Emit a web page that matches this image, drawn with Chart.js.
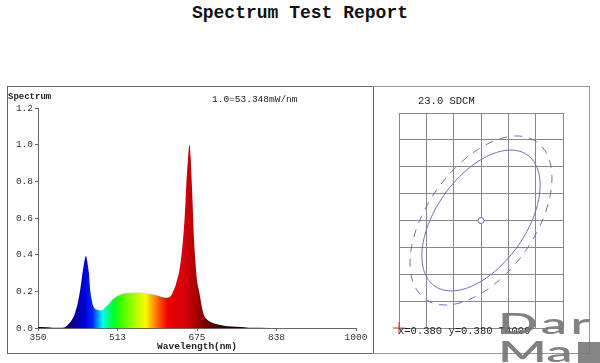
<!DOCTYPE html>
<html>
<head>
<meta charset="utf-8">
<script src="https://cdn.jsdelivr.net/npm/chart.js@4/dist/chart.umd.min.js"></script>
<style>
  body { margin: 0; width: 600px; height: 363px; background: #fff; position: relative; overflow: hidden; font-family: "Liberation Mono", "DejaVu Sans Mono", monospace; }
  .abs { position: absolute; white-space: nowrap; }
  #title { left: 0; width: 600px; top: 3px; text-align: center; font-size: 18px; font-weight: bold; color: #111; }
  #leftBox { left: 7px; top: 86px; width: 365px; height: 266px; border: 1px solid #666; }
  #rightBox { left: 372px; top: 86px; width: 217px; height: 266px; border: 1px solid #999; border-left: none; }
  #spec { left: 0; top: 0; }
  #cie { left: 0; top: 0; }
  .lbl { color: #222; line-height: 12px; }
  #logo1, #logo2 { color: rgba(115,115,115,0.9); font-family: "Lato", "DejaVu Sans", sans-serif; font-weight: 600; font-size: 29px; line-height: 28px; transform-origin: left top; transform: scaleX(1.8); }
  #logo1 { letter-spacing: 2px; }
  #logo2 { letter-spacing: 0px; }
  #logoSq { left: 578px; top: 342px; width: 22px; height: 21px; background: rgba(120,120,120,0.9); }
</style>
</head>
<body>
<div id="title" class="abs">Spectrum Test Report</div>
<div id="leftBox" class="abs"><canvas id="spec" class="abs" width="365" height="266"></canvas></div>
<div id="rightBox" class="abs"><canvas id="cie" class="abs" width="217" height="266"></canvas></div>
<div class="abs lbl" style="left:8px;top:91px;font-size:9px;font-weight:bold;">Spectrum</div>
<div class="abs lbl" style="left:212px;top:94px;font-size:9.5px;">1.0=53.348mW/nm</div>
<div class="abs lbl" style="left:418px;top:95px;font-size:10.5px;">23.0 SDCM</div>
<div class="abs lbl" style="left:398px;top:325px;font-size:10.5px;">x=0.380 y=0.380 T4000</div>
<div id="logo1" class="abs" style="left:498px;top:309px;">Dar</div>
<div id="logo2" class="abs" style="left:498px;top:337px;">Ma</div>
<div id="logoSq" class="abs"></div>
<script>
// spectrum data (relative power vs wavelength)
var wavelengths = [350, 360, 370, 380, 390, 400, 405, 412, 418, 422, 426, 429, 432, 436, 439, 441, 444, 446, 448, 450, 452, 454, 457, 460, 463, 467, 471, 475, 478, 481, 485, 490, 494, 500, 508, 515, 522, 530, 542, 555, 569, 580, 590, 600, 607, 612, 618, 623, 627, 631, 634, 638, 641, 645, 648, 651, 653, 656, 658, 660, 662, 664, 666, 668, 670, 672, 675, 679, 682, 686, 690, 696, 704, 716, 730, 745, 764, 780, 800, 850, 900, 1000];
var power = [0.006, 0.006, 0.004, 0.001, 0.001, 0.002, 0.004, 0.02, 0.04, 0.057, 0.085, 0.112, 0.145, 0.204, 0.26, 0.3, 0.35, 0.38, 0.393, 0.375, 0.34, 0.3, 0.2, 0.15, 0.118, 0.104, 0.1, 0.097, 0.096, 0.098, 0.107, 0.12, 0.13, 0.148, 0.167, 0.178, 0.186, 0.19, 0.192, 0.193, 0.191, 0.186, 0.18, 0.172, 0.167, 0.165, 0.168, 0.18, 0.204, 0.23, 0.259, 0.3, 0.351, 0.44, 0.534, 0.66, 0.78, 0.9, 0.97, 1.0, 0.93, 0.81, 0.68, 0.534, 0.43, 0.351, 0.259, 0.204, 0.16, 0.1, 0.065, 0.045, 0.032, 0.02, 0.012, 0.008, 0.005, 0.002, 0.001, 0, 0, 0];
var xTickValues = [350, 512.5, 675, 837.5, 1000];
var xTickLabels = ["350", "513", "675", "838", "1000"];
var yTickLabels = ["0.0", "0.2", "0.4", "0.6", "0.8", "1.0", "1.2"];

// chromaticity panel
var cieCenter = [0.380, 0.380];
var cieRangeX = [0.35, 0.41];
var cieRangeY = [0.34, 0.42];
var ellipseAxes = [0.0297, 0.0165]; // semi-major, semi-minor
var ellipseAngle = 55.5; // degrees
var dashedScale = 1.2;

// colour stops for the spectrum fill
var spectrumStops = [
  [395, "rgb(20,0,70)"], [420, "rgb(10,0,140)"], [445, "rgb(0,0,215)"], [462, "rgb(0,40,255)"],
  [470, "rgb(0,130,255)"], [482, "rgb(0,250,255)"], [492, "rgb(0,255,140)"], [505, "rgb(0,255,40)"],
  [520, "rgb(60,255,0)"], [545, "rgb(160,255,0)"], [570, "rgb(255,250,0)"], [585, "rgb(255,160,0)"],
  [600, "rgb(255,70,0)"], [615, "rgb(235,0,0)"], [650, "rgb(215,0,10)"], [672, "rgb(170,0,0)"],
  [695, "rgb(110,0,0)"], [730, "rgb(50,0,0)"], [780, "rgb(0,0,0)"]
];

function spectrumFill(context) {
  var chart = context.chart;
  var area = chart.chartArea;
  if (!area) return "rgba(0,0,0,0)";
  var x = chart.scales.x;
  var g = chart.ctx.createLinearGradient(area.left, 0, area.right, 0);
  var w = area.right - area.left;
  spectrumStops.forEach(function (s) {
    var p = (x.getPixelForValue(s[0]) - area.left) / w;
    g.addColorStop(Math.min(1, Math.max(0, p)), s[1]);
  });
  return g;
}

var points = wavelengths.map(function (w, i) { return { x: w, y: power[i] }; });

new Chart(document.getElementById("spec").getContext("2d"), {
  type: "line",
  data: {
    datasets: [{
      data: points,
      fill: "origin",
      backgroundColor: spectrumFill,
      borderWidth: 0,
      pointRadius: 0,
      cubicInterpolationMode: "monotone"
    }]
  },
  options: {
    responsive: false,
    animation: false,
    layout: { padding: { top: 21, right: 17, left: 0, bottom: 0 } },
    plugins: { legend: { display: false }, tooltip: { enabled: false } },
    scales: {
      x: {
        type: "linear", min: 350, max: 1000,
        afterBuildTicks: function (scale) { scale.ticks = xTickValues.map(function (v) { return { value: v }; }); },
        afterFit: function (scale) { scale.height = 25; },
        grid: { drawOnChartArea: false, tickLength: 3, color: "#666" },
        border: { color: "#666" },
        ticks: {
          autoSkip: false, maxRotation: 0, padding: 1, color: "#333",
          font: { family: "Liberation Mono", size: 9.5 },
          callback: function (v, i) { return xTickLabels[i]; }
        },
        title: { display: true, text: "Wavelength(nm)", color: "#222", padding: { top: 0, bottom: 1 }, font: { family: "Liberation Mono", size: 9.5, weight: "bold" } }
      },
      y: {
        min: 0, max: 1.2,
        afterFit: function (scale) { scale.width = 30; },
        grid: { drawOnChartArea: false, tickLength: 3, color: "#666" },
        border: { color: "#666" },
        ticks: {
          stepSize: 0.2, padding: 2, color: "#333",
          font: { family: "Liberation Mono", size: 9.5 },
          callback: function (v, i) { return yTickLabels[i]; }
        }
      }
    }
  }
});

function ellipsePath(ctx, chart, a, b) {
  var xs = chart.scales.x, ys = chart.scales.y;
  var th = ellipseAngle * Math.PI / 180;
  ctx.beginPath();
  for (var k = 0; k <= 180; k++) {
    var t = k / 180 * 2 * Math.PI;
    var ex = cieCenter[0] + a * Math.cos(t) * Math.cos(th) - b * Math.sin(t) * Math.sin(th);
    var ey = cieCenter[1] + a * Math.cos(t) * Math.sin(th) + b * Math.sin(t) * Math.cos(th);
    var px = xs.getPixelForValue(ex), py = ys.getPixelForValue(ey);
    if (k === 0) ctx.moveTo(px, py); else ctx.lineTo(px, py);
  }
  ctx.stroke();
}

var ellipsePlugin = {
  id: "sdcmEllipse",
  beforeDatasetsDraw: function (chart) {
    var ctx = chart.ctx;
    ctx.save();
    ctx.strokeStyle = "#6a6ab8";
    ctx.lineWidth = 1;
    ellipsePath(ctx, chart, ellipseAxes[0], ellipseAxes[1]);
    ctx.setLineDash([8, 7]);
    ellipsePath(ctx, chart, ellipseAxes[0] * dashedScale, ellipseAxes[1] * dashedScale);
    ctx.restore();
  }
};

new Chart(document.getElementById("cie").getContext("2d"), {
  type: "scatter",
  data: {
    datasets: [
      { data: [{ x: cieCenter[0], y: cieCenter[1] }], pointStyle: "circle", pointRadius: 3, borderWidth: 1, borderColor: "#6a6ab8", backgroundColor: "#fff", clip: false },
      { data: [{ x: cieRangeX[0], y: cieRangeY[0] }], pointStyle: "cross", pointRadius: 6, borderWidth: 1, borderColor: "#e03030", clip: false }
    ]
  },
  options: {
    responsive: false,
    animation: false,
    layout: { padding: { left: 27, top: 26, right: 26, bottom: 25 } },
    plugins: { legend: { display: false }, tooltip: { enabled: false } },
    scales: {
      x: { min: cieRangeX[0], max: cieRangeX[1], ticks: { display: false, stepSize: 0.01 }, grid: { color: "#888", drawTicks: false }, border: { display: false } },
      y: { min: cieRangeY[0], max: cieRangeY[1], ticks: { display: false, stepSize: 0.01 }, grid: { color: "#888", drawTicks: false }, border: { display: false } }
    }
  },
  plugins: [ellipsePlugin]
});
</script>
</body>
</html>
